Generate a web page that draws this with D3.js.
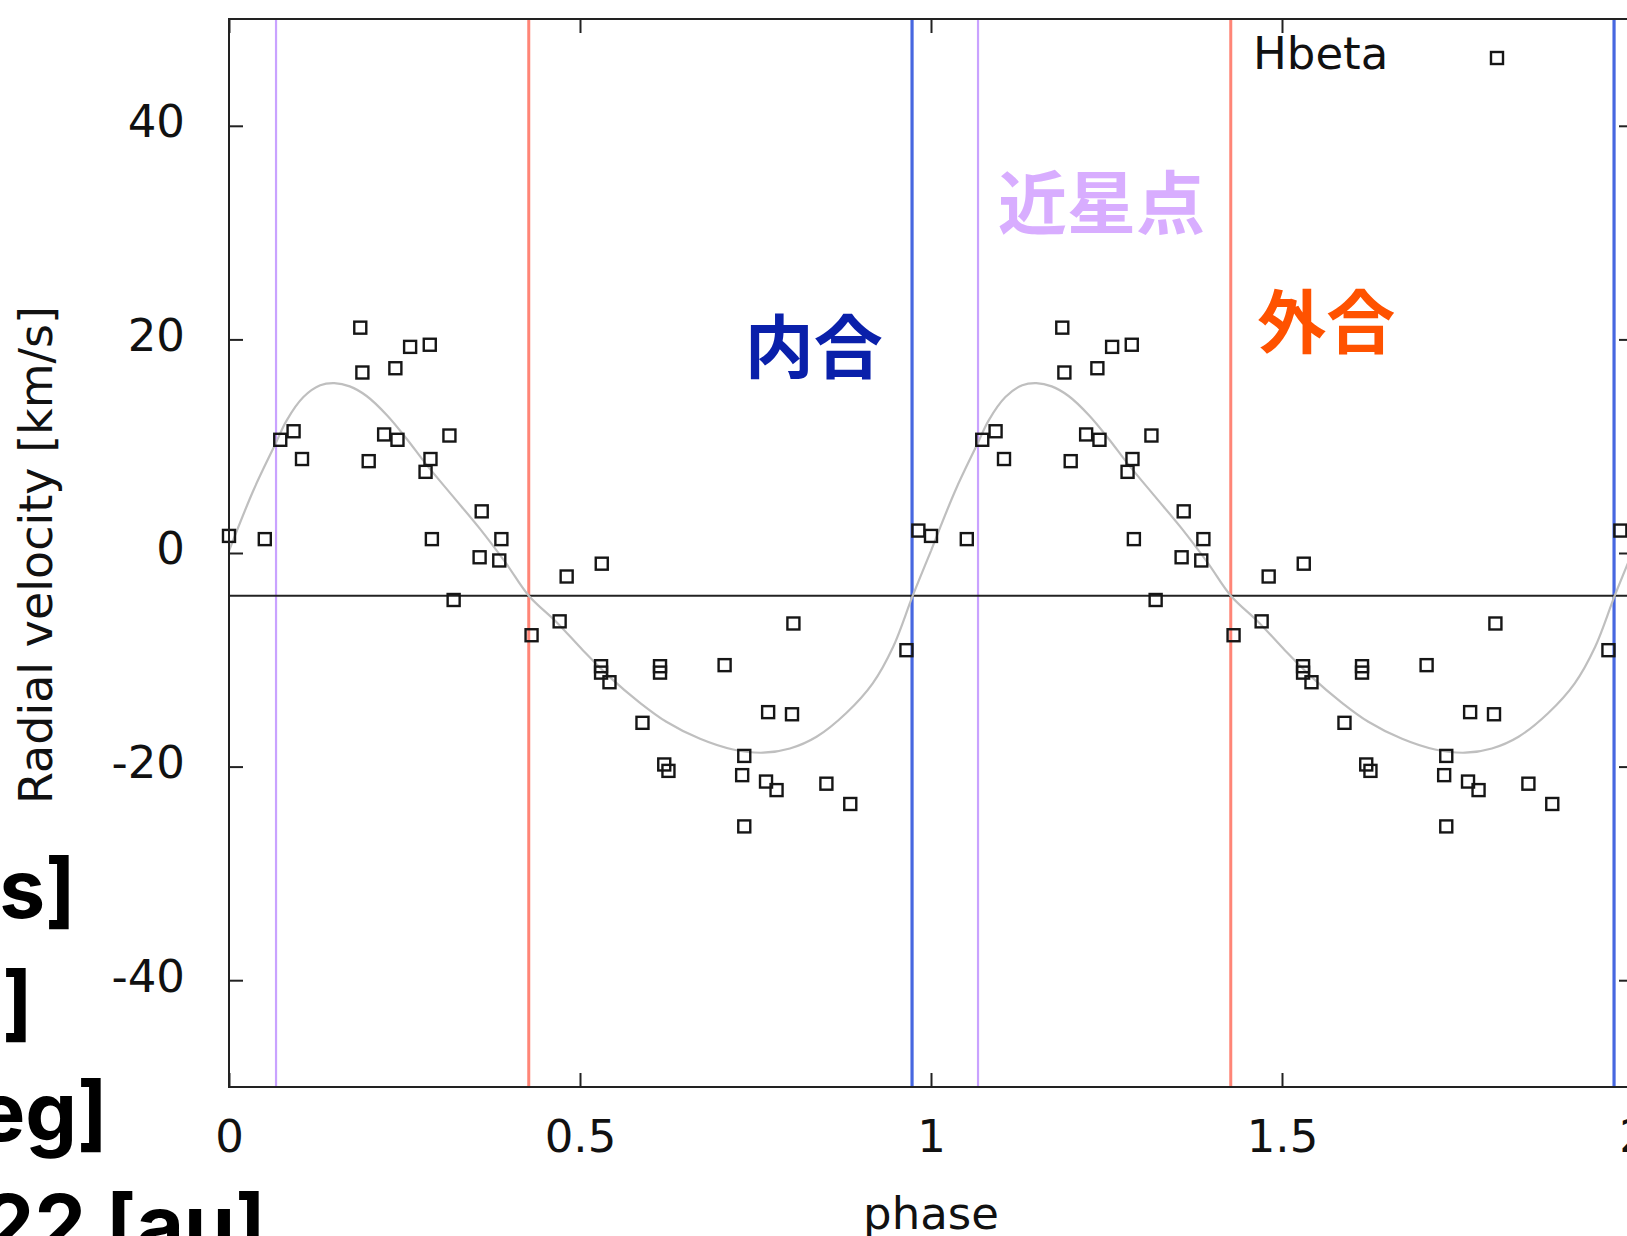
<!DOCTYPE html>
<html>
<head>
<meta charset="utf-8">
<script src="https://cdn.jsdelivr.net/npm/d3@7"></script>
<style>
  html, body { margin: 0; padding: 0; background: #fff; overflow: hidden; }
  svg { display: block; }
</style>
</head>
<body>
<svg id="chart" width="1627" height="1236"></svg>
<script>
// Hβ radial velocities folded on the orbital phase (one cycle, shown twice)
const obsPhase = [
  0.000, 0.051, 0.073, 0.092, 0.104, 0.187, 0.190, 0.199, 0.221, 0.237,
  0.240, 0.258, 0.286, 0.287, 0.280, 0.289, 0.314, 0.320, 0.360, 0.388,
  0.357, 0.385, 0.431, 0.471, 0.481, 0.531, 0.530, 0.530, 0.542, 0.614,
  0.614, 0.589, 0.620, 0.626, 0.706, 0.734, 0.731, 0.734, 0.768, 0.802,
  0.765, 0.780, 0.804, 0.851, 0.885, 0.965, 0.982
];
const obsVelocity = [
  1.6, 1.3, 10.6, 11.4, 8.8, 21.1, 16.9, 8.6, 11.1, 17.3,
  10.6, 19.3, 19.5, 8.8, 7.6, 1.3, 11.0, -4.4, 3.9, 1.3,
  -0.4, -0.7, -7.7, -6.4, -2.2, -1.0, -10.6, -11.2, -12.1, -10.6,
  -11.2, -15.9, -19.8, -20.4, -10.5, -19.0, -20.8, -25.6, -14.9, -15.1,
  -21.4, -22.2, -6.6, -21.6, -23.5, -9.1, 2.1
];

// orbital solution sampled over one cycle
const modelPhase = [
  0.000, 0.035, 0.066, 0.082, 0.106, 0.130, 0.150, 0.172, 0.196, 0.225,
  0.253, 0.281, 0.319, 0.357, 0.395, 0.427, 0.467, 0.504, 0.542, 0.585,
  0.623, 0.671, 0.718, 0.761, 0.799, 0.837, 0.879, 0.917, 0.946, 0.974, 1.000
];
const modelVelocity = [
  0.2, 5.9, 10.2, 12.4, 14.6, 15.7, 15.9, 15.6, 14.7, 12.9,
  10.7, 8.3, 5.3, 2.3, -1.0, -4.0, -6.5, -9.1, -11.6, -14.0,
  -15.8, -17.4, -18.4, -18.7, -18.3, -17.2, -15.0, -12.2, -8.8, -4.0, 0.2
];

const systemicVelocity = -4.0;      // gamma
const cycles = [0, 1];

// orbital events (phase within one cycle)
const eventNames  = ["近星点", "外合", "内合"];
const eventPhase  = [0.067, 0.427, 0.973];

const xTicks = [0, 0.5, 1, 1.5, 2];
const yTicks = [-40, -20, 0, 20, 40];

// fragments of neighbouring text at the left edge
const sideTexts = ["[km/s]", "[km/s]", "[deg]", "0.22 [au]"];

// ---------------------------------------------------------------------------
const svg = d3.select("#chart");
const W = 1627, H = 1236;
const plot = { left: 229, right: 1633, top: 19, bottom: 1087 };
const FONT = "'DejaVu Sans', sans-serif";

svg.append("rect").attr("width", W).attr("height", H).attr("fill", "#fff");

const x = d3.scaleLinear().domain([0, 2]).range([plot.left, plot.right]);
const y = d3.scaleLinear().domain([-50, 50]).range([plot.bottom, plot.top]);

svg.append("clipPath").attr("id", "plotClip")
  .append("rect")
  .attr("x", plot.left).attr("y", plot.top)
  .attr("width", plot.right - plot.left).attr("height", plot.bottom - plot.top);

const inner = svg.append("g").attr("clip-path", "url(#plotClip)");

// event markers
const eventStyle = {
  "近星点": { line: "#c9a2ff", width: 2.2, text: "#d8adff" },
  "外合":   { line: "#ff8577", width: 3,   text: "#ff5200" },
  "内合":   { line: "#4767e0", width: 3.2, text: "#0a20aa" }
};
const eventLines = [];
cycles.forEach(c => eventPhase.forEach((p, i) => eventLines.push({ name: eventNames[i], phase: p + c })));

inner.selectAll("line.event").data(eventLines).join("line")
  .attr("class", "event")
  .attr("x1", d => x(d.phase)).attr("x2", d => x(d.phase))
  .attr("y1", plot.top).attr("y2", plot.bottom)
  .attr("stroke", d => eventStyle[d.name].line)
  .attr("stroke-width", d => eventStyle[d.name].width);

// systemic velocity
inner.append("line")
  .attr("x1", plot.left).attr("x2", plot.right)
  .attr("y1", y(systemicVelocity)).attr("y2", y(systemicVelocity))
  .attr("stroke", "#222").attr("stroke-width", 2);

// model curve
const line = d3.line()
  .x(d => x(d[0])).y(d => y(d[1]))
  .curve(d3.curveCatmullRom.alpha(0.5));
cycles.forEach(c => {
  inner.append("path")
    .datum(modelPhase.map((p, i) => [p + c, modelVelocity[i]]))
    .attr("d", line)
    .attr("fill", "none")
    .attr("stroke", "#bfbfbf")
    .attr("stroke-width", 2.2);
});

// observations
const S = 12;
const obs = [];
cycles.forEach(c => obsPhase.forEach((p, i) => {
  if (p + c <= 2) obs.push([p + c, obsVelocity[i]]);
}));
svg.append("g").selectAll("rect").data(obs).join("rect")
  .attr("x", d => x(d[0]) - S / 2).attr("y", d => y(d[1]) - S / 2)
  .attr("width", S).attr("height", S)
  .attr("fill", "none").attr("stroke", "#161616").attr("stroke-width", 2.4);

// axes with inward ticks on all four sides
const TL = 14;
const fmt = d => String(d);

const gx = svg.append("g").attr("transform", `translate(0,${plot.bottom})`)
  .call(d3.axisBottom(x).tickValues(xTicks).tickFormat(fmt).tickSize(-TL));
const gy = svg.append("g").attr("transform", `translate(${plot.left},0)`)
  .call(d3.axisLeft(y).tickValues(yTicks).tickFormat(fmt).tickSize(-TL));
const gt = svg.append("g").attr("transform", `translate(0,${plot.top})`)
  .call(d3.axisTop(x).tickValues(xTicks).tickFormat("").tickSize(-TL));
const gr = svg.append("g").attr("transform", `translate(${plot.right},0)`)
  .call(d3.axisRight(y).tickValues(yTicks).tickFormat("").tickSize(-TL));

[gx, gy, gt, gr].forEach(g => {
  g.select(".domain").remove();
  g.selectAll(".tick line").attr("stroke", "#222").attr("stroke-width", 2);
  g.selectAll(".tick text").attr("fill", "#111").style("font-family", FONT).style("font-size", "45px");
});
gx.selectAll(".tick text").attr("dy", "0.71em").attr("y", 33);
gy.selectAll(".tick text").attr("dy", "0.24em").attr("x", -44);

// frame
svg.append("rect")
  .attr("x", plot.left).attr("y", plot.top)
  .attr("width", plot.right - plot.left).attr("height", plot.bottom - plot.top)
  .attr("fill", "none").attr("stroke", "#222").attr("stroke-width", 2);

// axis titles
svg.append("text")
  .attr("transform", "translate(52,555) rotate(-90)")
  .attr("text-anchor", "middle")
  .style("font-family", FONT).style("font-size", "46px").attr("fill", "#111")
  .text("Radial velocity [km/s]");

svg.append("text")
  .attr("x", (plot.left + plot.right) / 2).attr("y", 1229)
  .attr("text-anchor", "middle")
  .style("font-family", FONT).style("font-size", "45px").attr("fill", "#111")
  .text("phase");

// legend
svg.append("text")
  .attr("x", 1253).attr("y", 69)
  .style("font-family", FONT).style("font-size", "45px").attr("fill", "#111")
  .text("Hbeta");
svg.append("rect")
  .attr("x", 1497 - S / 2).attr("y", 58 - S / 2).attr("width", S).attr("height", S)
  .attr("fill", "none").attr("stroke", "#161616").attr("stroke-width", 2.4);

// event labels
const labelPos = {
  "近星点": { phase: 1.243, v: 30.3 },
  "外合":   { phase: 1.563, v: 19.2 },
  "内合":   { phase: 0.833, v: 16.9 }
};
eventNames.forEach(n => {
  svg.append("text")
    .attr("x", x(labelPos[n].phase)).attr("y", y(labelPos[n].v))
    .attr("text-anchor", "middle")
    .style("font-family", "'Noto Sans CJK JP', 'Noto Sans CJK SC', sans-serif")
    .style("font-weight", 700).style("font-size", "69px")
    .attr("fill", eventStyle[n].text)
    .text(n);
});

// neighbouring text fragments, cut by the left edge
const sideX = [76, 33, 108, 266];
const sideY = [918, 1031, 1141, 1254];
sideTexts.forEach((t, i) => {
  svg.append("text")
    .attr("x", sideX[i]).attr("y", sideY[i])
    .attr("text-anchor", "end")
    .style("font-family", "Inter, 'Noto Sans', sans-serif")
    .style("font-weight", 700).style("font-size", "82px")
    .attr("fill", "#000")
    .text(t);
});
</script>
</body>
</html>
